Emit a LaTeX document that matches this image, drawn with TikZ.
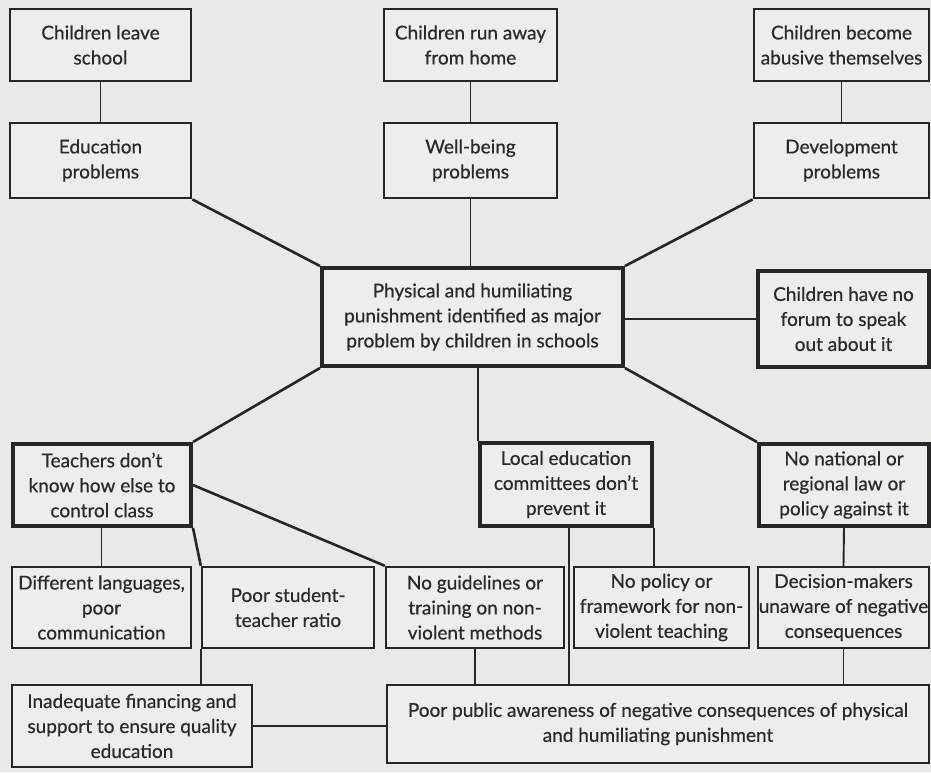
\documentclass[tikz,border=0pt]{standalone}
\usepackage{fontspec}
\setmainfont{Lato}
\newfontfamily\boxfont{Lato}[FakeBold=0.6]
\usetikzlibrary{calc}
\definecolor{bgcol}{HTML}{E9E9E6}
\definecolor{boxfill}{HTML}{EDEDEA}
\definecolor{linecol}{HTML}{262626}
\definecolor{txtcol}{HTML}{2A2A2A}
\newcommand{\mkbox}[7]{%
  \pgfmathsetmacro\mbX{(#3+#5)/2}%
  \pgfmathsetmacro\mbY{-(#4+#6)/2}%
  \pgfmathsetmacro\mbW{#5-#3}%
  \pgfmathsetmacro\mbH{#6-#4}%
  \node[#1, minimum width=\mbW pt, minimum height=\mbH pt] (#2) at (\mbX pt,\mbY pt) {#7};}
\begin{document}
\begin{tikzpicture}[
  box/.style={draw=linecol, fill=boxfill, line width=2.4pt, align=center, inner sep=0pt,
    text=txtcol, font=\boxfont\fontsize{19}{25}\selectfont},
  topbox/.style={box, line width=2.8pt},
  keybox/.style={box, line width=4pt},
  conn/.style={draw=linecol, line width=1.9pt},
  diag/.style={draw=linecol, line width=2.6pt}
]
\fill[bgcol] (0,0) rectangle (931pt,-772pt);
\useasboundingbox (0,0) rectangle (931pt,-772pt);

% top rows
\mkbox{topbox}{leave}{10}{9}{191}{81}{Children leave\\school}
\mkbox{topbox}{runaway}{384}{9}{557}{81}{Children run away\\from home}
\mkbox{topbox}{abusive}{754}{9}{929}{81}{Children become\\abusive themselves}
\mkbox{topbox}{edu}{10}{123}{191}{198}{Education\\problems}
\mkbox{topbox}{well}{384}{123}{557}{198}{Well-being\\problems}
\mkbox{topbox}{dev}{754}{123}{929}{198}{Development\\problems}

% centre
\mkbox{keybox}{centre}{322}{268}{623}{366}{Physical and humiliating\\punishment identified as major\\problem by children in schools}
\mkbox{keybox}{forum}{758}{271}{929}{367}{Children have no\\forum to speak\\out about it}

% causes
\mkbox{keybox}{teach}{13}{444}{191}{526}{Teachers don’t\\know how else to\\control class}
\mkbox{keybox}{local}{480}{443}{652}{526}{Local education\\committees don’t\\prevent it}
\mkbox{keybox}{nolaw}{759}{444}{929}{526}{No national or\\regional law or\\policy against it}

\mkbox{box}{lang}{12}{567}{191}{648}{Different languages,\\poor\\communication}
\mkbox{box}{ratio}{202}{567}{374}{648}{Poor student-\\teacher ratio}
\mkbox{box}{guide}{386}{567}{564}{648}{No guidelines or\\training on non-\\violent methods}
\mkbox{box}{policy}{574}{567}{749}{648}{No policy or\\framework for non-\\violent teaching}
\mkbox{box}{decide}{758}{567}{929}{648}{Decision-makers\\unaware of negative\\consequences}

\mkbox{box}{finance}{12}{685}{252}{767}{Inadequate financing and\\support to ensure quality\\education}
\mkbox{box}{public}{387}{685}{929}{763}{Poor public awareness of negative consequences of physical\\and humiliating punishment}

\coordinate (gap) at ($(guide.north east)!0.5!(policy.north west)$);

% connectors
\draw[conn] (leave) -- (edu);
\draw[conn] (runaway) -- (runaway |- well.north);
\draw[conn] (abusive) -- (dev);
\draw[diag] (edu.south east) -- (centre.north west);
\draw[conn] (well.south) -- (well.south |- centre.north);
\draw[diag] (dev.south west) -- (centre.north east);
\draw[conn] (centre.east |- forum.west) -- (forum.west);
\draw[diag] (centre.south west) -- (teach.north east);
\draw[conn] (local.north west |- centre.south) -- (local.north west);
\draw[diag] (centre.south east) -- (nolaw.north west);

\draw[conn] (teach.south -| lang.north) -- (lang.north);
\draw[diag] (teach.south east) -- (ratio.north west);
\draw[conn] (ratio.south west) -- (ratio.south west |- finance.north);
\draw[diag] (teach.east) -- (guide.north west);
\draw[conn] (gap |- local.south) -- (gap |- public.north);
\draw[conn] (local.south east) -- (local.south east |- policy.north);
\draw[conn] (nolaw.south) -- (decide.north);
\draw[conn] (guide.south) -- (guide.south |- public.north);
\draw[conn] (decide.south) -- (decide.south |- public.north);
\draw[conn] (finance.east) -- (finance.east -| public.west);
\end{tikzpicture}
\end{document}
